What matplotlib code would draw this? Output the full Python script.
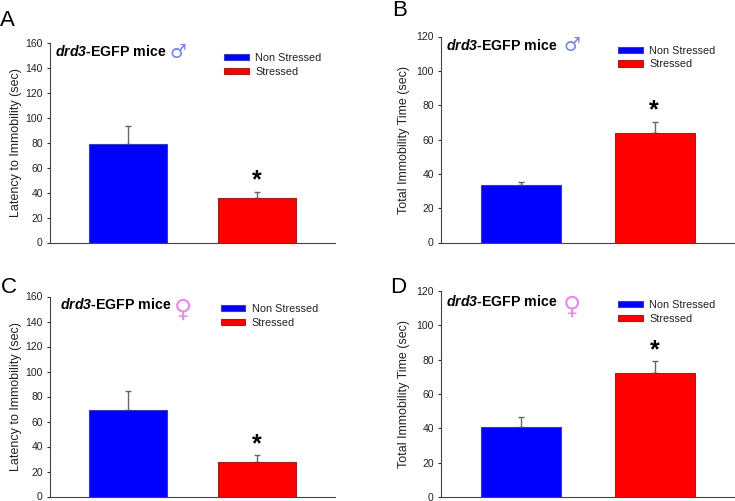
import matplotlib
matplotlib.use("Agg")
import matplotlib.pyplot as plt

plt.rcParams["font.family"] = ["Liberation Sans", "DejaVu Sans"]
plt.rcParams["mathtext.fontset"] = "custom"
plt.rcParams["mathtext.bfit"] = "Liberation Sans:italic:bold"
plt.rcParams["mathtext.rm"] = "Liberation Sans"

W, H = 735, 501

series_labels = ["Non Stressed", "Stressed"]
panel_letters = ["A", "B", "C", "D"]
y_labels = ["Latency to Immobility (sec)", "Total Immobility Time (sec)",
            "Latency to Immobility (sec)", "Total Immobility Time (sec)"]
y_limits = [160, 120, 160, 120]
y_steps = [20, 20, 20, 20]
means = [[79, 36], [33.5, 63.5], [69.5, 28], [40.5, 72.5]]
errors = [[14.5, 4.5], [1.8, 6.5], [15, 5], [6.3, 6.5]]
sex_symbols = ["\u2642", "\u2642", "\u2640", "\u2640"]
sex_colors = ["#7a84e8", "#7a84e8", "#e88af0", "#e88af0"]
sex_sizes = [13.5, 13.5, 18, 18]

# pixel boxes (left, top, right, bottom)
boxes = [(50, 43, 335, 242.5), (441, 36.5, 735, 242.5),
         (50, 296.5, 335, 496.5), (441, 291, 735, 497)]
letter_xy = [(0, 26), (392, 16.5), (1, 293), (390, 293)]
title_xy = [(55, 56.5), (446, 50), (60, 309), (446, 306)]
symbol_xy = [(178, 53), (572, 45.5), (183.5, 310), (572, 306.5)]
legend_xy = [(224, 53), (618, 45.5), (220.5, 304), (618, 300)]
star_xy = [(257, 180), (654, 110), (257, 444), (655, 350)]
label_x = [21.5, 410.5, 21.5, 410.5]

fig = plt.figure(figsize=(W / 100, H / 100), dpi=100)

for i in range(4):
    l, t, r, b = boxes[i]
    ax = fig.add_axes([l / W, 1 - b / H, (r - l) / W, (b - t) / H])
    bars = ax.bar([1, 2], means[i], width=0.6, color=["#0000ff", "#ff0000"],
                  edgecolor=["#3a3ac0", "#a02020"], linewidth=0.8, zorder=3)
    for x, m, e in zip([1, 2], means[i], errors[i]):
        ax.errorbar(x, m, yerr=[[0], [e]], color="#666666", elinewidth=1,
                    capsize=2.2, capthick=1, zorder=2)
    ax.set_xlim(0.4, 2.6)
    ax.set_ylim(0, y_limits[i])
    ax.set_yticks(range(0, y_limits[i] + 1, y_steps[i]))
    ax.set_xticks([])
    ax.tick_params(axis="y", labelsize=7.5, length=2.2, width=0.8, pad=3,
                   color="#333333", labelcolor="#222222")
    ax.spines["top"].set_visible(False)
    ax.spines["right"].set_visible(False)
    ax.spines["left"].set_color("#444444")
    ax.spines["bottom"].set_color("#444444")
    ax.set_ylabel(y_labels[i], fontsize=9, color="#222222")
    ax.yaxis.set_label_coords((label_x[i] - l) / (r - l), 0.5)

    ax.legend(bars, series_labels, frameon=False, fontsize=7.8,
              loc="upper left",
              bbox_to_anchor=(legend_xy[i][0] / W, 1 - legend_xy[i][1] / H),
              bbox_transform=fig.transFigure, handlelength=2.3,
              handleheight=0.5, labelspacing=0.36, handletextpad=0.6,
              borderpad=0, borderaxespad=0, labelcolor="#222222")

    fig.text(letter_xy[i][0] / W, 1 - letter_xy[i][1] / H, panel_letters[i],
             fontsize=16, color="black", ha="left", va="baseline")
    fig.text(title_xy[i][0] / W, 1 - title_xy[i][1] / H,
             r"$\mathbfit{drd3}$-EGFP mice", fontsize=10.2, fontweight="bold",
             color="black", ha="left", va="baseline")
    fig.text(symbol_xy[i][0] / W, 1 - symbol_xy[i][1] / H, sex_symbols[i],
             family="DejaVu Sans", fontsize=sex_sizes[i], color=sex_colors[i],
             ha="center", va="center")
    fig.text(star_xy[i][0] / W, 1 - star_xy[i][1] / H, "*", fontsize=18,
             fontweight="bold", color="black", ha="center", va="center")

fig.savefig("out.png", dpi=100)
